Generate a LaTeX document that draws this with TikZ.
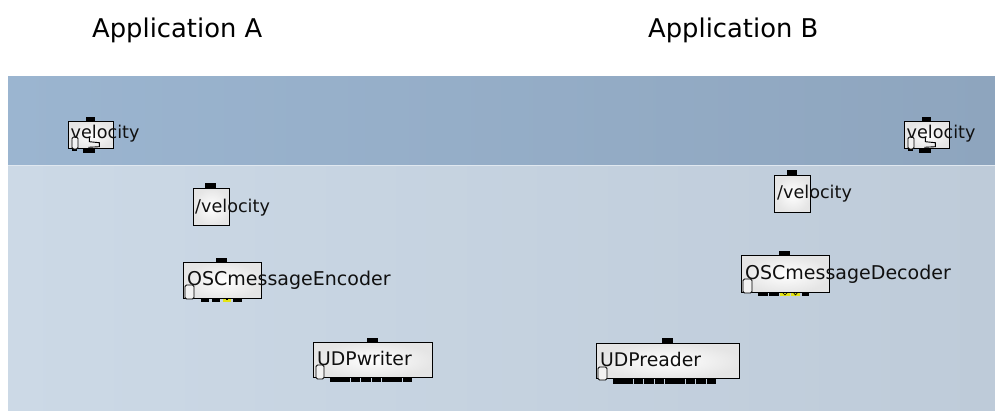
\documentclass[tikz,border=0pt]{standalone}
\usepackage{fontspec}
\setmainfont{DejaVu Sans}
\definecolor{upL}{HTML}{9BB5D0}
\definecolor{upR}{HTML}{8EA5BE}
\definecolor{loL}{HTML}{CCD9E6}
\definecolor{loR}{HTML}{BECBD9}
\definecolor{pinY}{HTML}{E4E414}
\definecolor{txt}{HTML}{101010}
\tikzset{
  boxst/.style={draw=black, line width=1.1pt, inner color=white, outer color=black!10, inner sep=0pt, anchor=north west},
  lblbig/.style={anchor=base west, inner sep=0pt, text=txt, font=\fontsize{19}{19}\selectfont},
  lblmid/.style={anchor=base west, inner sep=0pt, text=txt, font=\fontsize{18.8}{18.8}\selectfont},
  lblsmall/.style={anchor=base west, inner sep=0pt, text=txt, font=\fontsize{17.6}{17.6}\selectfont},
  titlest/.style={anchor=base west, inner sep=0pt, text=black, font=\fontsize{25.8}{25.8}\selectfont},
  pinb/.style={fill=black},
  piny/.style={fill=pinY},
  inlet/.style={draw=black, line width=0.9pt, fill=white!90!gray, rounded corners=1.5pt},
}
\begin{document}
\begin{tikzpicture}[x=1pt,y=-1pt]
\useasboundingbox (0,0) rectangle (995,410);
\fill[white] (0,0) rectangle (995,410);
% bands
\shade[left color=upL, right color=upR] (8,76) rectangle (995,165);
\shade[left color=loL, right color=loR] (8,165) rectangle (995,410);
\draw[white!40!loL, line width=0.8pt] (8,165) -- (995,165);
% titles
\node[titlest] (titleA) at (92,37) {Application A};
\node[titlest] (titleB) at (648,37) {Application B};

% ---------- velocity (A) ----------
\fill[pinb] (86,117) rectangle (95,121);
\fill[pinb] (83,148) rectangle (95,153);
\node[boxst, minimum width=45pt, minimum height=27pt] (velA) at (68,121) {};
\fill[pinb] (71.5,147.5) rectangle (77,151);
\draw[inlet] (72,137) rectangle (78,149);
\draw[black, line width=0.9pt] (89.3,136.5) -- (89.3,141.7) -- (99.3,142.7) -- (99.3,146.7) -- (88.3,147.3);
\node[lblsmall] (velAt) at (70.5,138.3) {velocity};

% ---------- velocity (B) ----------
\fill[pinb] (922,117) rectangle (931,121);
\fill[pinb] (919,148) rectangle (931,153);
\node[boxst, minimum width=45pt, minimum height=27pt] (velB) at (904,121) {};
\fill[pinb] (907.5,147.5) rectangle (913,151);
\draw[inlet] (908,137) rectangle (914,149);
\draw[black, line width=0.9pt] (925.3,136.5) -- (925.3,141.7) -- (935.3,142.7) -- (935.3,146.7) -- (924.3,147.3);
\node[lblsmall] (velBt) at (906.5,138.3) {velocity};

% ---------- /velocity (A) ----------
\fill[pinb] (205,183) rectangle (216,188);
\node[boxst, minimum width=36pt, minimum height=37pt] (svelA) at (193,188) {};
\node[lblsmall] (svelAt) at (195,212.3) {/velocity};

% ---------- /velocity (B) ----------
\fill[pinb] (787,170) rectangle (797,175);
\node[boxst, minimum width=36pt, minimum height=37pt] (svelB) at (774,175) {};
\node[lblsmall] (svelBt) at (777,198.3) {/velocity};

% ---------- OSCmessageEncoder ----------
\fill[pinb] (216,258) rectangle (227,262);
\fill[pinb] (201,298) rectangle (209,302);
\fill[pinb] (212,298) rectangle (220,302);
\fill[piny] (223,298) rectangle (231,302);
\fill[pinb] (226,298) rectangle (228,300);
\fill[pinb] (233,298) rectangle (242,302);
\node[boxst, minimum width=78pt, minimum height=36pt] (enc) at (183,262) {};
\draw[inlet] (185,285) rectangle (194,299);
\node[lblbig] (enct) at (187,285.5) {OSCmessageEncoder};

% ---------- OSCmessageDecoder ----------
\fill[pinb] (779,251) rectangle (790,255);
\fill[pinb] (758,292) rectangle (768,296);
\fill[pinb] (769,292) rectangle (779,296);
\fill[piny] (780,292) rectangle (790,296);
\fill[piny] (791,292) rectangle (800,296);
\draw[black, line width=0.6pt] (782,292) -- (785,295) -- (788,292);
\draw[black, line width=0.6pt] (793,292) -- (795.5,295) -- (798,292);
\fill[pinb] (802,292) rectangle (809,296);
\node[boxst, minimum width=88pt, minimum height=37pt] (dec) at (741,255) {};
\draw[inlet] (743,279) rectangle (752,293);
\node[lblbig] (dect) at (745,279) {OSCmessageDecoder};

% ---------- UDPwriter ----------
\fill[pinb] (367,338) rectangle (378,342);
\foreach \i in {0,...,7} {
  \fill[pinb] ({330+\i*10.4},377) rectangle ({339.6+\i*10.4},382);
}
\node[boxst, minimum width=119pt, minimum height=35pt] (udpw) at (313,342) {};
\draw[inlet] (316,365) rectangle (324,379);
\node[lblmid] (udpwt) at (317,365.5) {UDPwriter};

% ---------- UDPreader ----------
\fill[pinb] (662,338) rectangle (673,343);
\foreach \i in {0,...,9} {
  \fill[pinb] ({613+\i*10.4},378) rectangle ({622.6+\i*10.4},384);
}
\node[boxst, minimum width=143pt, minimum height=35pt] (udpr) at (596,343) {};
\draw[inlet] (598,367) rectangle (607,380);
\node[lblmid] (udprt) at (600,366.5) {UDPreader};
\end{tikzpicture}
\end{document}
